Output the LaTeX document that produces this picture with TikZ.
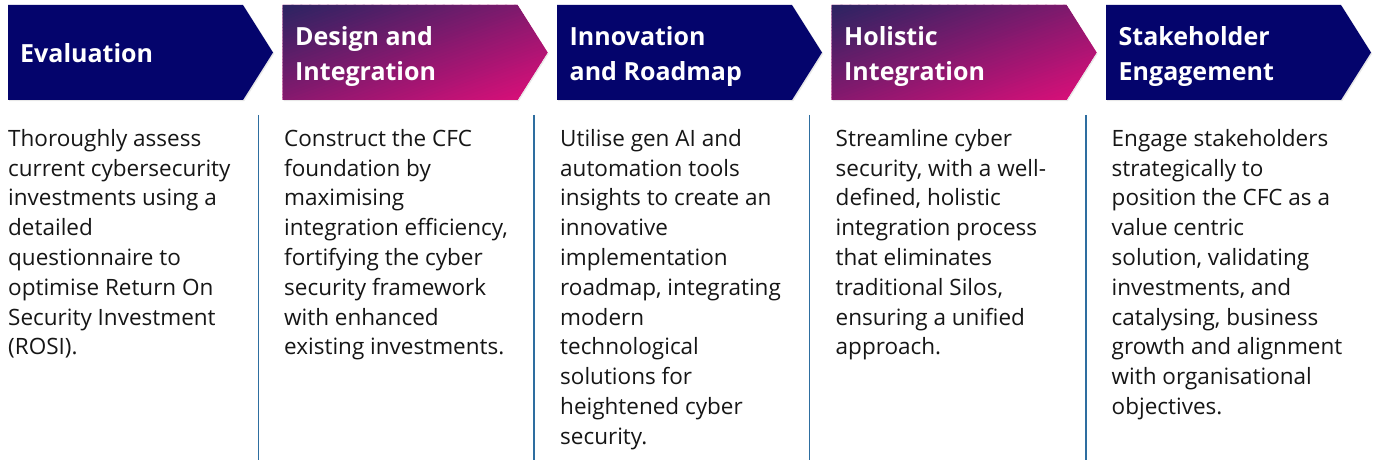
\documentclass[tikz,border=0pt]{standalone}
\usepackage{fontspec}
\setmainfont{Open Sans}
\usetikzlibrary{shadows}
\definecolor{navy}{RGB}{4,4,108}
\definecolor{gradA}{RGB}{42,36,98}
\definecolor{gradB}{RGB}{226,14,122}
\definecolor{rulecol}{RGB}{46,110,160}
\definecolor{bodycol}{RGB}{22,22,22}
\begin{document}
\begin{tikzpicture}[x=1pt,y=-1pt,
  chevshadow/.style={drop shadow={opacity=0.18,shadow xshift=1.2pt,shadow yshift=-1.2pt}},
  navychev/.style={fill=navy,chevshadow},
  gradbase/.style={fill=gradB,chevshadow},
  titletext/.style={anchor=north west,inner sep=0pt,text=white,align=left,
    font=\fontsize{25}{35}\selectfont\bfseries},
  bodytext/.style={anchor=north west,inner sep=0pt,text=bodycol,align=left,
    font=\fontsize{22.5}{29.8}\selectfont},
  sepline/.style={draw=rulecol,line width=1.4pt}]
\useasboundingbox (0,0) rectangle (1377,465);
\fill[white] (0,0) rectangle (1377,465);
% navy chevrons
\foreach \i in {0,2,4}{
  \pgfmathsetmacro{\L}{8+274.5*\i}
  \path[navychev] (\L,5) -- (\L+235,5) -- (\L+265,52.5) -- (\L+235,100) -- (\L,100) -- cycle;
}
% gradient chevrons (diagonal linear gradient, top-left dark to bottom-right magenta)
\foreach \i in {1,3}{
  \pgfmathsetmacro{\L}{8+274.5*\i}
  \path[gradbase] (\L,5) -- (\L+235,5) -- (\L+265,52.5) -- (\L+235,100) -- (\L,100) -- cycle;
  \begin{scope}
    \clip (\L,5) -- (\L+235,5) -- (\L+265,52.5) -- (\L+235,100) -- (\L,100) -- cycle;
    \foreach \k in {0,...,59}{
      \pgfmathsetmacro{\ta}{3*\k}
      \pgfmathsetmacro{\tb}{3*\k+3.5}
      \pgfmathsetmacro{\pct}{100*(\k+0.5)/60}
      \fill[gradB!\pct!gradA]
        (\L+0.3375*\ta-282, 5+0.9414*\ta+101) -- (\L+0.3375*\ta+282, 5+0.9414*\ta-101) --
        (\L+0.3375*\tb+282, 5+0.9414*\tb-101) -- (\L+0.3375*\tb-282, 5+0.9414*\tb+101) -- cycle;
    }
  \end{scope}
}
% titles
\node[titletext] (t1) at (20,40) {\rule{0pt}{22pt}Evaluation};
\node[titletext] (t2) at (295,23) {\rule{0pt}{22pt}Design and\\Integration};
\node[titletext] (t3) at (569.5,23) {\rule{0pt}{22pt}Innovation\\and Roadmap};
\node[titletext] (t4) at (844,23) {\rule{0pt}{22pt}Holistic\\Integration};
\node[titletext] (t5) at (1118.5,23) {\rule{0pt}{22pt}Stakeholder\\Engagement};
% separators
\foreach \x/\n in {258.5/1,534/2,809.5/3,1086/4}{
  \coordinate (s\n a) at (\x,115);
  \coordinate (s\n b) at (\x,460);
  \draw[sepline] (s\n a) -- (s\n b);
}
% body texts
\node[bodytext] (b1) at (8,126) {\rule{0pt}{20pt}Thoroughly assess\\current cybersecurity\\investments using a\\detailed\\questionnaire to\\optimise Return On\\Security Investment\\(ROSI).};
\node[bodytext] (b2) at (284,126) {\rule{0pt}{20pt}Construct the CFC\\foundation by\\maximising\\integration efficiency,\\fortifying the cyber\\security framework\\with enhanced\\existing investments.};
\node[bodytext] (b3) at (560,126) {\rule{0pt}{20pt}Utilise gen AI and\\automation tools\\insights to create an\\innovative\\implementation\\roadmap, integrating\\modern\\technological\\solutions for\\heightened cyber\\security.};
\node[bodytext] (b4) at (835.5,126) {\rule{0pt}{20pt}Streamline cyber\\security, with a well-\\defined, holistic\\integration process\\that eliminates\\traditional Silos,\\ensuring a unified\\approach.};
\node[bodytext] (b5) at (1111.5,126) {\rule{0pt}{20pt}Engage stakeholders\\strategically to\\position the CFC as a\\value centric\\solution, validating\\investments, and\\catalysing, business\\growth and alignment\\with organisational\\objectives.};
\end{tikzpicture}
\end{document}
